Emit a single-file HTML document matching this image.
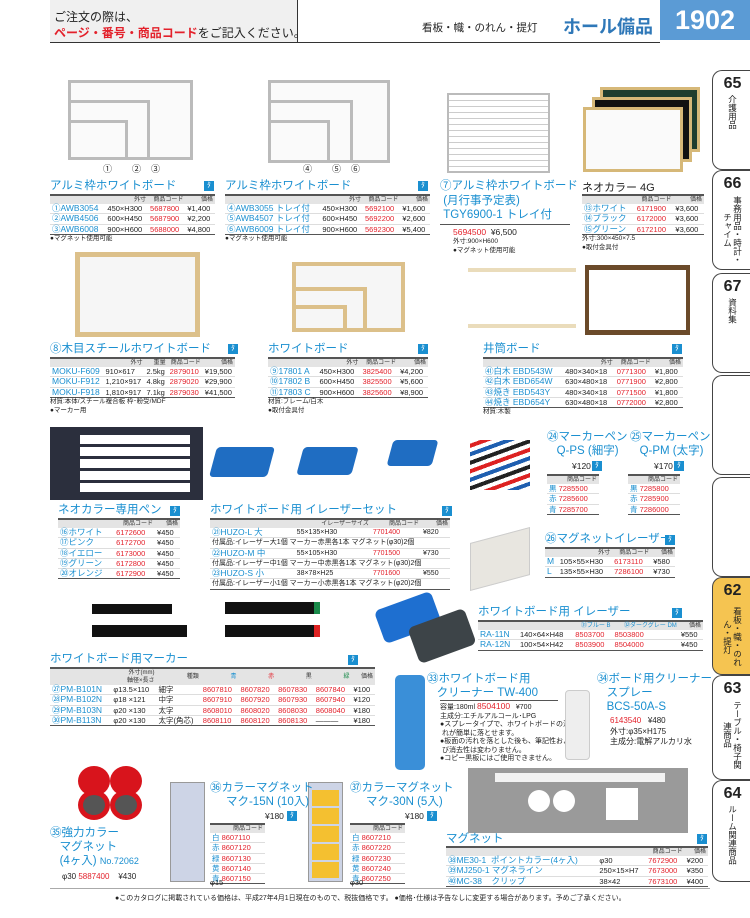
<!DOCTYPE html>
<html><head><meta charset="utf-8"><style>
*{margin:0;padding:0;box-sizing:border-box}
body{width:750px;height:918px;position:relative;background:#fff;font-family:"Liberation Sans","Noto Sans CJK JP",sans-serif;color:#222;overflow:hidden}
.a{position:absolute}
.b{color:#1a8fd0}.r{color:#e3212b}
.t{position:absolute;font-size:11.5px;color:#1a8fd0;white-space:nowrap;line-height:14px}
table{position:absolute;border-collapse:collapse;font-size:7.5px;line-height:9.3px;white-space:nowrap}
table th{font-weight:normal;font-size:6px;line-height:8px;background:#e4e4e4;border-top:2px solid #555;color:#333;padding:0 2px;text-align:right}
table td{padding:0 2px;border-bottom:1px solid #ddd}
table tr:last-child td{border-bottom:1.5px solid #555}
td.c{color:#1a8fd0;font-size:8.5px}
td.r{color:#e3212b}
.n{font-size:6.5px;position:absolute;white-space:nowrap;line-height:8.5px}
.ic{position:absolute;background:#1a8fd0;color:#fff;font-size:7px;width:10px;height:10px;text-align:center;line-height:10px}
.wb{position:absolute;background:#fafafa;border:3px solid #bbb}
.wd{position:absolute;background:#f6f6f6;border:5px solid #dcc08a}
.tab{position:absolute;left:712px;width:40px;border:1px solid #444;border-right:none;border-radius:10px 0 0 10px;background:#fff;text-align:center}
.tab b{display:block;font-size:16px;margin-top:4px}
.tab span{display:block;font-size:8.5px;writing-mode:vertical-rl;margin:2px auto 0;line-height:10px;max-height:70px;overflow:hidden}
</style></head><body>

<div class="a" style="left:50px;top:0;width:247px;height:42px;background:#f0f0f0"></div>
<div class="a" style="left:297px;top:0;width:1px;height:42px;background:#333"></div>
<div class="a" style="left:50px;top:42px;width:610px;height:1px;background:#333"></div>
<div class="a" style="left:54px;top:9px;font-size:12px;line-height:16px">ご注文の際は、<br><span class="r" style="font-weight:bold">ページ・番号・商品コード</span>をご記入ください。</div>
<div class="a" style="left:422px;top:20px;font-size:10.5px">看板・幟・のれん・提灯</div>
<div class="a" style="left:563px;top:13px;font-size:18px;font-weight:bold;color:#2f78b8">ホール備品</div>
<div class="a" style="left:660px;top:0;width:90px;height:40px;background:#5b9bd5;color:#fff;font-size:27px;font-weight:bold;text-align:center;line-height:40px">1902</div>

<div class="tab" style="top:70px;height:100px"><b>65</b><span>介護用品</span></div>
<div class="tab" style="top:170px;height:100px"><b>66</b><span>事務用品・時計・チャイム</span></div>
<div class="tab" style="top:273px;height:100px"><b>67</b><span>資料集</span></div>
<div class="tab" style="top:375px;height:100px"></div>
<div class="tab" style="top:477px;height:100px"></div>
<div class="tab" style="top:577px;height:98px;background:#f5c451"><b>62</b><span>看板・幟・のれん・提灯</span></div>
<div class="tab" style="top:675px;height:105px"><b>63</b><span>テーブル・椅子関連商品</span></div>
<div class="tab" style="top:780px;height:102px"><b>64</b><span>ルーム関連商品</span></div>

<div class="wb" style="left:68px;top:80px;width:125px;height:80px"></div>
<div class="wb" style="left:68px;top:100px;width:82px;height:60px"></div>
<div class="wb" style="left:68px;top:120px;width:60px;height:40px"></div>
<div class="wb" style="left:268px;top:80px;width:122px;height:83px"></div>
<div class="wb" style="left:268px;top:100px;width:85px;height:63px"></div>
<div class="wb" style="left:268px;top:120px;width:62px;height:43px"></div>
<div class="wb" style="left:447px;top:93px;width:103px;height:80px;border-width:2px;background:repeating-linear-gradient(#fff 0,#fff 5px,#ccc 5px,#ccc 6px)"></div>
<div class="a" style="left:600px;top:87px;width:100px;height:65px;background:#1e3d2e;border:3px solid #d6b878"></div>
<div class="a" style="left:592px;top:97px;width:100px;height:65px;background:#111;border:3px solid #d6b878"></div>
<div class="a" style="left:583px;top:107px;width:100px;height:65px;background:#fafafa;border:3px solid #d6b878"></div>
<div class="n" style="left:103px;top:165px;font-size:9px">①&nbsp;&nbsp;&nbsp;&nbsp;&nbsp;&nbsp;&nbsp;&nbsp;②&nbsp;&nbsp;&nbsp;&nbsp;③</div>
<div class="n" style="left:303px;top:165px;font-size:9px">④&nbsp;&nbsp;&nbsp;&nbsp;&nbsp;&nbsp;&nbsp;&nbsp;⑤&nbsp;&nbsp;&nbsp;&nbsp;⑥</div>

<div class="t" style="left:50px;top:179px">アルミ枠ホワイトボード</div><div class="ic" style="left:204px;top:181px">ﾀ</div>
<table style="left:50px;top:194px;width:165px"><tr><th></th><th>外寸</th><th>商品コード</th><th>価格</th></tr>
<tr><td class="c">①AWB3054</td><td>450×H300</td><td class="r">5687800</td><td>¥1,400</td></tr>
<tr><td class="c">②AWB4506</td><td>600×H450</td><td class="r">5687900</td><td>¥2,200</td></tr>
<tr><td class="c">③AWB6008</td><td>900×H600</td><td class="r">5688000</td><td>¥4,800</td></tr></table>
<div class="n" style="left:50px;top:235px">●マグネット使用可能</div>

<div class="t" style="left:225px;top:179px">アルミ枠ホワイトボード</div><div class="ic" style="left:418px;top:181px">ﾀ</div>
<table style="left:225px;top:194px;width:205px"><tr><th></th><th>外寸</th><th>商品コード</th><th>価格</th></tr>
<tr><td class="c">④AWB3055 トレイ付</td><td>450×H300</td><td class="r">5692100</td><td>¥1,600</td></tr>
<tr><td class="c">⑤AWB4507 トレイ付</td><td>600×H450</td><td class="r">5692200</td><td>¥2,600</td></tr>
<tr><td class="c">⑥AWB6009 トレイ付</td><td>900×H600</td><td class="r">5692300</td><td>¥5,400</td></tr></table>
<div class="n" style="left:225px;top:235px">●マグネット使用可能</div>

<div class="t" style="left:440px;top:179px;line-height:14.5px">⑦アルミ枠ホワイトボード<br>&nbsp;(月行事予定表)<br>&nbsp;TGY6900-1 トレイ付</div>
<div class="a" style="left:440px;top:224px;width:130px;height:1px;background:#555"></div>
<div class="a" style="left:453px;top:227px;font-size:8.5px"><span class="r">5694500</span>&nbsp;&nbsp;¥6,500</div>
<div class="n" style="left:453px;top:238px">外寸:900×H600<br>●マグネット使用可能</div>

<div class="a" style="left:582px;top:179px;font-size:11px">ネオカラー 4G</div>
<table style="left:582px;top:194px;width:122px"><tr><th></th><th>商品コード</th><th>価格</th></tr>
<tr><td class="c">⑬ホワイト</td><td class="r">6171900</td><td>¥3,600</td></tr>
<tr><td class="c">⑭ブラック</td><td class="r">6172000</td><td>¥3,600</td></tr>
<tr><td class="c">⑮グリーン</td><td class="r">6172100</td><td>¥3,600</td></tr></table>
<div class="n" style="left:582px;top:235px">外寸:300×450×7.5<br>●取付金具付</div>

<div class="wd" style="left:75px;top:252px;width:125px;height:85px"></div>
<div class="wd" style="left:292px;top:262px;width:113px;height:70px;border-width:4px"></div>
<div class="wd" style="left:292px;top:287px;width:75px;height:45px;border-width:4px"></div>
<div class="wd" style="left:292px;top:305px;width:55px;height:27px;border-width:4px"></div>
<div class="a" style="left:468px;top:268px;width:108px;height:60px;border:4px solid #eadcbb;border-left:none;border-right:none"></div>
<div class="a" style="left:585px;top:265px;width:105px;height:70px;border:5px solid #6b4a2a;border-left:4px solid #6b4a2a;border-right:4px solid #6b4a2a"></div>
<div class="t" style="left:50px;top:342px">⑧木目スチールホワイトボード</div><div class="ic" style="left:228px;top:344px">ﾀ</div>
<table style="left:50px;top:357px;width:185px"><tr><th></th><th>外寸</th><th>重量</th><th>商品コード</th><th>価格</th></tr>
<tr><td class="c">MOKU-F609</td><td>910×617</td><td>2.5kg</td><td class="r">2879010</td><td>¥19,500</td></tr>
<tr><td class="c">MOKU-F912</td><td>1,210×917</td><td>4.8kg</td><td class="r">2879020</td><td>¥29,900</td></tr>
<tr><td class="c">MOKU-F918</td><td>1,810×917</td><td>7.1kg</td><td class="r">2879030</td><td>¥41,500</td></tr></table>
<div class="n" style="left:50px;top:398px">材質:本体/スチール複合板 枠･粉受/MDF<br>●マーカー用</div>

<div class="t" style="left:268px;top:342px">ホワイトボード</div><div class="ic" style="left:418px;top:344px">ﾀ</div>
<table style="left:268px;top:357px;width:160px"><tr><th></th><th>外寸</th><th>商品コード</th><th>価格</th></tr>
<tr><td class="c">⑨17801 A</td><td>450×H300</td><td class="r">3825400</td><td>¥4,200</td></tr>
<tr><td class="c">⑩17802 B</td><td>600×H450</td><td class="r">3825500</td><td>¥5,600</td></tr>
<tr><td class="c">⑪17803 C</td><td>900×H600</td><td class="r">3825600</td><td>¥8,900</td></tr></table>
<div class="n" style="left:268px;top:398px">材質:フレーム/白木<br>●取付金具付</div>

<div class="t" style="left:483px;top:342px">井筒ボード</div><div class="ic" style="left:672px;top:344px">ﾀ</div>
<table style="left:483px;top:357px;width:200px"><tr><th></th><th>外寸</th><th>商品コード</th><th>価格</th></tr>
<tr><td class="c">㊶白木 EBD543W</td><td>480×340×18</td><td class="r">0771300</td><td>¥1,800</td></tr>
<tr><td class="c">㊷白木 EBD654W</td><td>630×480×18</td><td class="r">0771900</td><td>¥2,800</td></tr>
<tr><td class="c">㊸焼き EBD543Y</td><td>480×340×18</td><td class="r">0771500</td><td>¥1,800</td></tr>
<tr><td class="c">㊹焼き EBD654Y</td><td>630×480×18</td><td class="r">0772000</td><td>¥2,800</td></tr></table>
<div class="n" style="left:483px;top:408px">材質:木製</div>

<div class="a" style="left:50px;top:427px;width:153px;height:73px;background:#2b2f3d"></div>
<div class="a" style="left:80px;top:435px;width:110px;height:58px;background:repeating-linear-gradient(#fff 0,#fff 9px,#2b2f3d 9px,#2b2f3d 12px)"></div>
<div class="a" style="left:213px;top:447px;width:58px;height:30px;background:#1f6dc2;border-radius:4px;transform:skew(-15deg)"></div>
<div class="a" style="left:300px;top:447px;width:55px;height:28px;background:#1f6dc2;border-radius:4px;transform:skew(-15deg)"></div>
<div class="a" style="left:390px;top:440px;width:45px;height:26px;background:#1f6dc2;border-radius:4px;transform:skew(-15deg)"></div>
<div class="a" style="left:470px;top:440px;width:60px;height:50px;background:repeating-linear-gradient(-20deg,#fff 0,#fff 4px,#1f5fb0 4px,#1f5fb0 8px,#fff 8px,#fff 12px,#d22 12px,#d22 16px,#fff 16px,#fff 20px,#222 20px,#222 24px)"></div>
<div class="a" style="left:470px;top:535px;width:60px;height:48px;background:#e8e6e0;transform:skew(0,-15deg);border:1px solid #ccc"></div>

<div class="t" style="left:58px;top:503px">ネオカラー専用ペン</div><div class="ic" style="left:170px;top:506px">ﾀ</div>
<table style="left:58px;top:518px;width:122px"><tr><th></th><th>商品コード</th><th>価格</th></tr>
<tr><td class="c">⑯ホワイト</td><td class="r">6172600</td><td>¥450</td></tr>
<tr><td class="c">⑰ピンク</td><td class="r">6172700</td><td>¥450</td></tr>
<tr><td class="c">⑱イエロー</td><td class="r">6173000</td><td>¥450</td></tr>
<tr><td class="c">⑲グリーン</td><td class="r">6172800</td><td>¥450</td></tr>
<tr><td class="c">⑳オレンジ</td><td class="r">6172900</td><td>¥450</td></tr></table>

<div class="t" style="left:210px;top:503px">ホワイトボード用 イレーザーセット</div><div class="ic" style="left:442px;top:506px">ﾀ</div>
<table style="left:210px;top:518px;width:240px;font-size:7px"><tr><th></th><th>イレーザーサイズ</th><th>商品コード</th><th>価格</th></tr>
<tr><td class="c">㉑HUZO-L 大</td><td>55×135×H30</td><td class="r">7701400</td><td>¥820</td></tr>
<tr><td colspan="4">付属品:イレーザー大1個 マーカー赤黒各1本 マグネット(φ30)2個</td></tr>
<tr><td class="c">㉒HUZO-M 中</td><td>55×105×H30</td><td class="r">7701500</td><td>¥730</td></tr>
<tr><td colspan="4">付属品:イレーザー中1個 マーカー中赤黒各1本 マグネット(φ30)2個</td></tr>
<tr><td class="c">㉓HUZO-S 小</td><td>38×78×H25</td><td class="r">7701600</td><td>¥550</td></tr>
<tr><td colspan="4">付属品:イレーザー小1個 マーカー小赤黒各1本 マグネット(φ20)2個</td></tr></table>

<div class="t" style="left:547px;top:430px">㉔マーカーペン<br>&nbsp;&nbsp;&nbsp;Q-PS (細字)</div>
<div class="t" style="left:630px;top:430px">㉕マーカーペン<br>&nbsp;&nbsp;&nbsp;Q-PM (太字)</div>
<div class="a" style="left:572px;top:461px;font-size:8.5px">¥120</div><div class="ic" style="left:592px;top:461px">ﾀ</div>
<div class="a" style="left:654px;top:461px;font-size:8.5px">¥170</div><div class="ic" style="left:674px;top:461px">ﾀ</div>
<table style="left:547px;top:474px;width:52px"><tr><th>商品コード</th></tr>
<tr><td class="r"><span class="b">黒</span> 7285500</td></tr><tr><td class="r"><span class="b">赤</span> 7285600</td></tr><tr><td class="r"><span class="b">青</span> 7285700</td></tr></table>
<table style="left:628px;top:474px;width:52px"><tr><th>商品コード</th></tr>
<tr><td class="r"><span class="b">黒</span> 7285800</td></tr><tr><td class="r"><span class="b">赤</span> 7285900</td></tr><tr><td class="r"><span class="b">青</span> 7286000</td></tr></table>

<div class="t" style="left:545px;top:532px">㉖マグネットイレーザー</div><div class="ic" style="left:665px;top:535px">ﾀ</div>
<table style="left:545px;top:547px;width:130px"><tr><th></th><th>外寸</th><th>商品コード</th><th>価格</th></tr>
<tr><td class="c">M</td><td>105×55×H30</td><td class="r">6173110</td><td>¥580</td></tr>
<tr><td class="c">L</td><td>135×55×H30</td><td class="r">7286100</td><td>¥730</td></tr></table>

<div class="a" style="left:92px;top:604px;width:80px;height:10px;background:#111"></div>
<div class="a" style="left:225px;top:602px;width:95px;height:12px;background:#111;border-right:6px solid #1a8a4a"></div>
<div class="a" style="left:92px;top:625px;width:95px;height:12px;background:#111"></div>
<div class="a" style="left:225px;top:625px;width:95px;height:12px;background:#111;border-right:6px solid #d22"></div>
<div class="t" style="left:50px;top:652px">ホワイトボード用マーカー</div><div class="ic" style="left:348px;top:655px">ﾀ</div>
<table style="left:50px;top:667px;width:325px"><tr><th></th><th>外寸(mm)<br>軸径×長さ</th><th>種類</th><th style="color:#1a8fd0">青</th><th style="color:#e3212b">赤</th><th>黒</th><th style="color:#1a8a4a">緑</th><th>価格</th></tr>
<tr><td class="c">㉗PM-B101N</td><td>φ13.5×110</td><td>細字</td><td class="r">8607810</td><td class="r">8607820</td><td class="r">8607830</td><td class="r">8607840</td><td>¥100</td></tr>
<tr><td class="c">㉘PM-B102N</td><td>φ18 ×121</td><td>中字</td><td class="r">8607910</td><td class="r">8607920</td><td class="r">8607930</td><td class="r">8607940</td><td>¥120</td></tr>
<tr><td class="c">㉙PM-B103N</td><td>φ20 ×130</td><td>太字</td><td class="r">8608010</td><td class="r">8608020</td><td class="r">8608030</td><td class="r">8608040</td><td>¥180</td></tr>
<tr><td class="c">㉚PM-B113N</td><td>φ20 ×130</td><td>太字(角芯)</td><td class="r">8608110</td><td class="r">8608120</td><td class="r">8608130</td><td>———</td><td>¥180</td></tr></table>

<div class="a" style="left:378px;top:600px;width:60px;height:35px;background:#1e6fd0;border-radius:6px;transform:rotate(-20deg)"></div>
<div class="a" style="left:412px;top:617px;width:60px;height:38px;background:#3d4448;border-radius:6px;transform:rotate(-20deg)"></div>
<div class="t" style="left:478px;top:605px">ホワイトボード用 イレーザー</div><div class="ic" style="left:672px;top:608px">ﾀ</div>
<table style="left:478px;top:620px;width:225px"><tr><th></th><th></th><th style="color:#1a8fd0">㉛ブルー B</th><th style="color:#1a8fd0">㉜ダークグレー DM</th><th>価格</th></tr>
<tr><td class="c">RA-11N</td><td>140×64×H48</td><td class="r">8503700</td><td class="r">8503800</td><td>¥550</td></tr>
<tr><td class="c">RA-12N</td><td>100×54×H42</td><td class="r">8503900</td><td class="r">8504000</td><td>¥450</td></tr></table>

<div class="a" style="left:395px;top:675px;width:30px;height:95px;background:#3a8fd8;border-radius:5px"></div>
<div class="t" style="left:427px;top:672px">㉝ホワイトボード用<br>&nbsp;&nbsp;&nbsp;クリーナー TW-400</div>
<div class="a" style="left:440px;top:700px;width:118px;height:1px;background:#555"></div>
<div class="n" style="left:440px;top:702px;font-size:7px">容量:180ml <span class="r" style="font-size:8.5px">8504100</span>&nbsp;&nbsp;&nbsp;¥700<br>主成分:エチルアルコール･LPG<br>●スプレータイプで、ホワイトボードの汚<br>&nbsp;れが簡単に落とせます。<br>●板面の汚れを落とした後も、筆記性およ<br>&nbsp;び消去性は変わりません。<br>●コピー黒板にはご使用できません。</div>
<div class="a" style="left:565px;top:690px;width:25px;height:70px;background:#eee;border:1px solid #ccc;border-radius:4px"></div>
<div class="t" style="left:597px;top:672px">㉞ボード用クリーナー<br>&nbsp;&nbsp;&nbsp;スプレー<br>&nbsp;&nbsp;&nbsp;BCS-50A-S</div>
<div class="n" style="left:610px;top:716px;font-size:8px;line-height:10.5px"><span class="r">6143540</span>&nbsp;&nbsp;&nbsp;¥480<br>外寸:φ35×H175<br>主成分:電解アルカリ水</div>

<div class="a" style="left:78px;top:766px;width:32px;height:30px;background:#d8141c;border-radius:50%"></div>
<div class="a" style="left:110px;top:766px;width:32px;height:30px;background:#d8141c;border-radius:50%"></div>
<div class="a" style="left:78px;top:790px;width:32px;height:30px;background:#555;border:5px solid #d8141c;border-radius:50%"></div>
<div class="a" style="left:110px;top:790px;width:32px;height:30px;background:#555;border:5px solid #d8141c;border-radius:50%"></div>
<div class="t" style="left:50px;top:826px">㉟強力カラー<br>&nbsp;&nbsp;&nbsp;マグネット<br>&nbsp;&nbsp;&nbsp;(4ヶ入) <span style="font-size:9px">No.72062</span></div>
<div class="a" style="left:62px;top:872px;font-size:8px">φ30 <span class="r">5887400</span>&nbsp;&nbsp;&nbsp;&nbsp;¥430</div>
<div class="a" style="left:170px;top:782px;width:35px;height:100px;background:#cdd4e6;border:1px solid #999"></div>
<div class="a" style="left:308px;top:782px;width:35px;height:100px;background:#cdd4e6;border:1px solid #999"></div>
<div class="a" style="left:312px;top:790px;width:27px;height:88px;background:repeating-linear-gradient(#f4c030 0,#f4c030 16px,#cdd4e6 16px,#cdd4e6 18px)"></div>
<div class="t" style="left:210px;top:781px">㊱カラーマグネット<br>&nbsp;&nbsp;&nbsp;&nbsp;&nbsp;マク-15N (10入)</div>
<div class="a" style="left:265px;top:811px;font-size:8.5px">¥180</div><div class="ic" style="left:287px;top:811px">ﾀ</div>
<table style="left:210px;top:823px;width:55px"><tr><th>商品コード</th></tr>
<tr><td class="r"><span class="b">白</span> 8607110</td></tr><tr><td class="r"><span class="b">赤</span> 8607120</td></tr><tr><td class="r"><span class="b">緑</span> 8607130</td></tr><tr><td class="r"><span class="b">黄</span> 8607140</td></tr><tr><td class="r"><span class="b">青</span> 8607150</td></tr></table>
<div class="n" style="left:210px;top:879px;font-size:7.5px">φ15</div>
<div class="t" style="left:350px;top:781px">㊲カラーマグネット<br>&nbsp;&nbsp;&nbsp;&nbsp;&nbsp;マク-30N (5入)</div>
<div class="a" style="left:405px;top:811px;font-size:8.5px">¥180</div><div class="ic" style="left:427px;top:811px">ﾀ</div>
<table style="left:350px;top:823px;width:55px"><tr><th>商品コード</th></tr>
<tr><td class="r"><span class="b">白</span> 8607210</td></tr><tr><td class="r"><span class="b">赤</span> 8607220</td></tr><tr><td class="r"><span class="b">緑</span> 8607230</td></tr><tr><td class="r"><span class="b">黄</span> 8607240</td></tr><tr><td class="r"><span class="b">青</span> 8607250</td></tr></table>
<div class="n" style="left:350px;top:879px;font-size:7.5px">φ30</div>

<div class="a" style="left:468px;top:768px;width:220px;height:65px;background:#9a9a9a"></div>
<div class="a" style="left:495px;top:773px;width:170px;height:9px;background:#f2f2f2"></div>
<div class="a" style="left:528px;top:790px;width:22px;height:22px;background:#fff;border-radius:50%"></div>
<div class="a" style="left:553px;top:790px;width:22px;height:22px;background:#fff;border-radius:50%"></div>
<div class="a" style="left:606px;top:788px;width:32px;height:32px;background:#fff"></div>
<div class="t" style="left:446px;top:832px">マグネット</div><div class="ic" style="left:697px;top:834px">ﾀ</div>
<table style="left:446px;top:846px;width:262px"><tr><th></th><th></th><th>商品コード</th><th>価格</th></tr>
<tr><td class="c">㊳ME30-1&nbsp;&nbsp;ポイントカラー(4ヶ入)</td><td>φ30</td><td class="r">7672900</td><td>¥200</td></tr>
<tr><td class="c">㊴MJ250-1 マグネライン</td><td>250×15×H7</td><td class="r">7673000</td><td>¥350</td></tr>
<tr><td class="c">㊵MC-38&nbsp;&nbsp;&nbsp;&nbsp;クリップ</td><td>38×42</td><td class="r">7673100</td><td>¥400</td></tr></table>

<div class="a" style="left:50px;top:888px;width:660px;height:1px;background:#aaa"></div>
<div class="a" style="left:115px;top:893px;font-size:7px;white-space:nowrap">●このカタログに掲載されている価格は、平成27年4月1日現在のもので、税抜価格です。 ●価格･仕様は予告なしに変更する場合があります。予めご了承ください。</div>
</body></html>
